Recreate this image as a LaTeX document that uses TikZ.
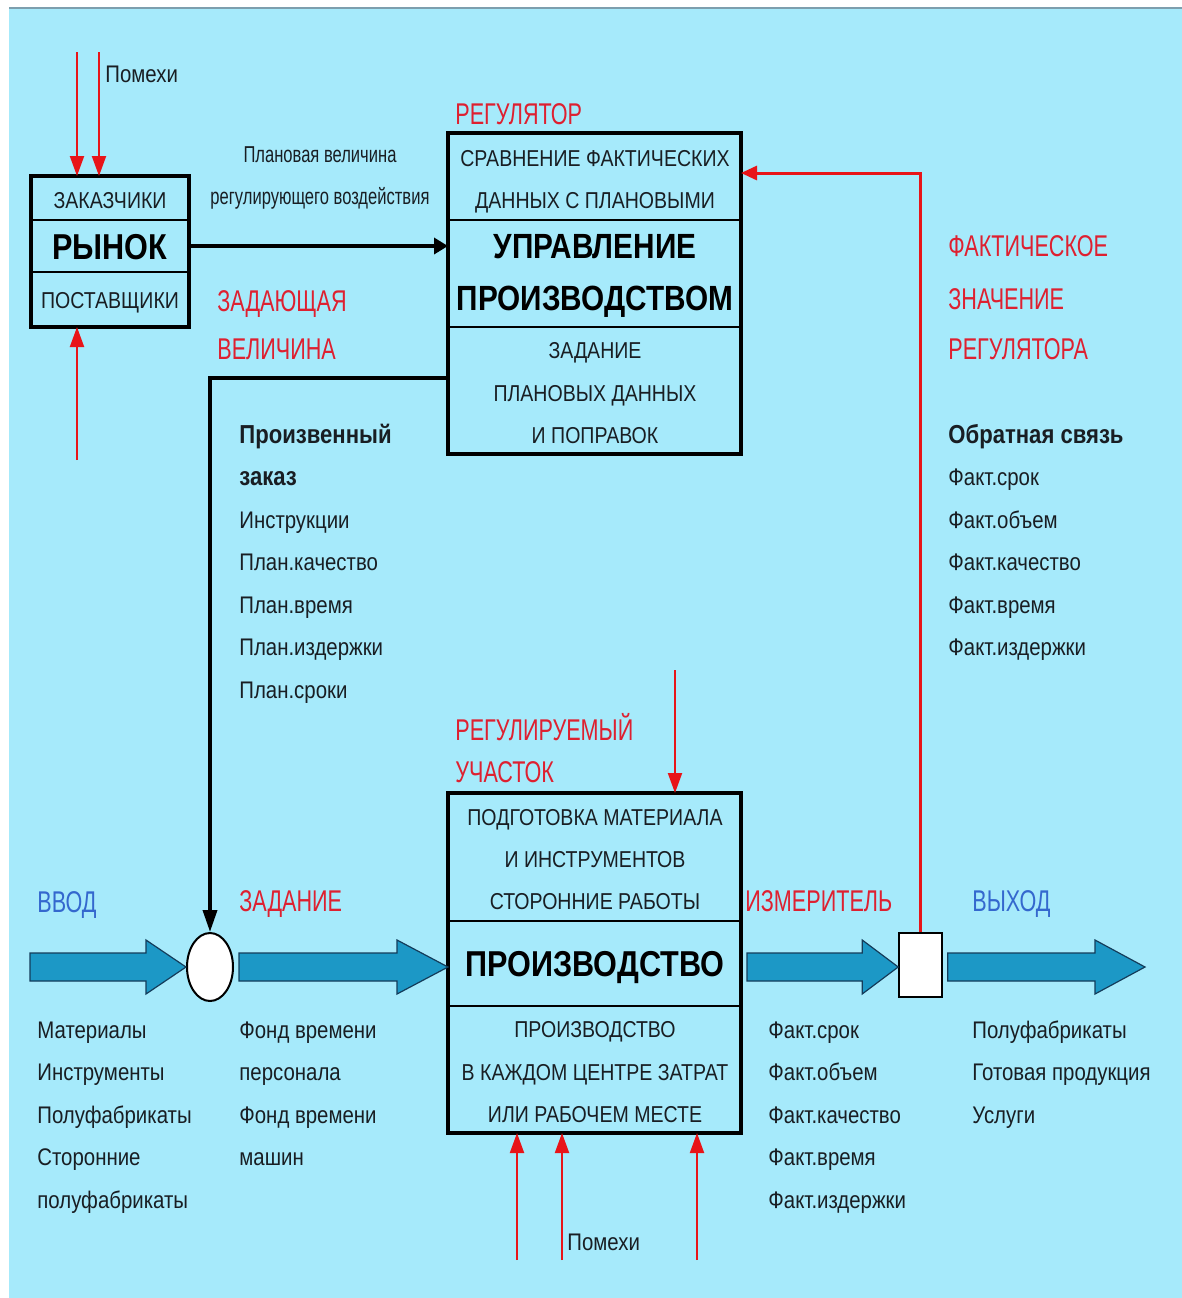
\documentclass[tikz,border=0pt]{standalone}
\usepackage{fontspec}
\setmainfont[FakeStretch=0.85]{Liberation Sans}
\newfontfamily\narrowfont[FakeStretch=0.72]{Liberation Sans}
\usetikzlibrary{arrows.meta,shapes.geometric,calc}
\definecolor{bgcyan}{RGB}{166,234,251}
\definecolor{flowblue}{RGB}{28,152,198}
\definecolor{flowedge}{RGB}{20,60,90}
\definecolor{redline}{RGB}{232,20,24}
\definecolor{redtxt}{RGB}{222,32,48}
\definecolor{bluetxt}{RGB}{52,104,206}
\definecolor{darktxt}{RGB}{25,30,35}
\newcommand{\flowarrow}[3]{%
  \draw[flowarr] let \p1=(#1 |- flowline), \p2=(#2 |- flowline) in
    (\x1,{\y1+7pt}) -- ({\x2-#3},{\y1+7pt}) -- ({\x2-#3},{\y1+13.5pt}) -- (\x2,\y1)
    -- ({\x2-#3},{\y1-13.5pt}) -- ({\x2-#3},{\y1-7pt}) -- (\x1,{\y1-7pt}) -- cycle;}

\begin{document}
\begin{tikzpicture}[x=0.5pt,y=-0.5pt,
    box/.style={draw=black,line width=2pt,inner sep=0pt,outer sep=0pt},
    divider/.style={line width=1pt},
    boxtxt/.style={anchor=base,inner sep=0pt,text=darktxt,font=\fontsize{11.5}{13}\selectfont},
    boxtitle/.style={anchor=base,inner sep=0pt,text=black,font=\bfseries\fontsize{17.5}{20}\selectfont},
    redlbl/.style={anchor=base west,inner sep=0pt,text=redtxt,font=\narrowfont\fontsize{15}{17}\selectfont},
    bluelbl/.style={redlbl,text=bluetxt},
    listtxt/.style={anchor=base west,inner sep=0pt,text=darktxt,font=\fontsize{12}{14}\selectfont},
    listhead/.style={listtxt,font=\bfseries\fontsize{13}{15}\selectfont},
    redarr/.style={draw=redline,line width=1pt,-{Triangle[length=10pt,width=7pt]}},
    blackarr/.style={draw=black,line width=2pt,-{Triangle[length=7pt,width=8pt]}},
    flowarr/.style={draw=flowedge,line width=0.6pt,fill=flowblue}]
  \useasboundingbox (0,0) rectangle (1182,1298);
  \fill[white] (0,0) rectangle (1182,1298);
  \fill[bgcyan] (9,9) rectangle (1182,1298);
  \draw[line width=1pt,color=gray!70!cyan] (9,8) -- (1182,8);

  \node[box,minimum width=79pt,minimum height=75.5pt] (market) at (110,251.5) {};
  \draw[divider] (31,220) -- (189,220);
  \draw[divider] (31,272) -- (189,272);
  \node[boxtxt] (customers) at (110,208) {ЗАКАЗЧИКИ};
  \node[boxtitle,font=\bfseries\fontsize{18}{20}\selectfont] (markettitle) at (110,259) {РЫНОК};
  \node[boxtxt] (suppliers) at (110,308) {ПОСТАВЩИКИ};

  \node[box,minimum width=146.5pt,minimum height=160.5pt] (control) at (594.5,293.5) {};
  \draw[divider] (448,220) -- (741,220);
  \draw[divider] (448,327) -- (741,327);
  \node[boxtxt] (cmp1) at (595,166) {СРАВНЕНИЕ ФАКТИЧЕСКИХ};
  \node[boxtxt] (cmp2) at (595,208) {ДАННЫХ С ПЛАНОВЫМИ};
  \node[boxtitle] (ctl1) at (595,258.5) {УПРАВЛЕНИЕ};
  \node[boxtitle] (ctl2) at (595,310.5) {ПРОИЗВОДСТВОМ};
  \node[boxtxt] (plan1) at (595,358) {ЗАДАНИЕ};
  \node[boxtxt] (plan2) at (595,401) {ПЛАНОВЫХ ДАННЫХ};
  \node[boxtxt] (plan3) at (595,443) {И ПОПРАВОК};

  \node[box,minimum width=146.5pt,minimum height=170pt] (prod) at (594.5,963) {};
  \draw[divider] (448,921) -- (741,921);
  \draw[divider] (448,1006) -- (741,1006);
  \node[boxtxt] (prep1) at (595,825) {ПОДГОТОВКА МАТЕРИАЛА};
  \node[boxtxt] (prep2) at (595,867) {И ИНСТРУМЕНТОВ};
  \node[boxtxt] (prep3) at (595,909) {СТОРОННИЕ РАБОТЫ};
  \node[boxtitle,font=\bfseries\fontsize{18}{20}\selectfont] (prodtitle) at (595,976) {ПРОИЗВОДСТВО};
  \node[boxtxt] (cost1) at (595,1037) {ПРОИЗВОДСТВО};
  \node[boxtxt] (cost2) at (595,1080) {В КАЖДОМ ЦЕНТРЕ ЗАТРАТ};
  \node[boxtxt] (cost3) at (595,1122) {ИЛИ РАБОЧЕМ МЕСТЕ};

  \node[draw=black,line width=1pt,fill=white,ellipse,inner sep=0pt,minimum width=23pt,minimum height=34pt] (circ) at (210,967) {};
  \node[draw=black,line width=0.8pt,fill=white,inner sep=0pt,minimum width=21.5pt,minimum height=32pt] (meter) at (920.5,965) {};

  \coordinate (flowline) at (0,967);
  \coordinate (a1s) at (30,967);
  \coordinate (a2s) at ([xshift=2.5pt]circ.east);
  \coordinate (a3s) at ([xshift=3pt]prod.east);
  \coordinate (a4s) at ([xshift=2.5pt]meter.east);
  \coordinate (a4e) at (1145,967);
  \flowarrow{a1s}{circ.west}{20pt}
  \flowarrow{a2s}{prod.west}{25.5pt}
  \flowarrow{a3s}{meter.west}{18pt}
  \flowarrow{a4s}{a4e}{25pt}

  \coordinate (planout) at ([yshift=2.75pt]market.east);
  \draw[blackarr] (planout) -- (planout -| control.west);
  \coordinate (setcorner) at (210,378);
  \draw[line width=1.8pt,-{Triangle[length=11pt,width=7pt]}] (setcorner -| control.west) -- (setcorner) -- (circ.north);
  \coordinate (fbcorner) at (920.5,173);
  \draw[draw=redline,line width=1.5pt,-{Triangle[length=8pt,width=7pt]}] (meter.north) -- (fbcorner) -- (fbcorner -| control.east);

  \coordinate (nz1) at (77,52);
  \coordinate (nz2) at (99,52);
  \coordinate (nz3) at (77,460);
  \coordinate (nz4) at (675,670);
  \coordinate (nz5) at (517,1260);
  \coordinate (nz6) at (562,1260);
  \coordinate (nz7) at (697,1260);
  \draw[redarr] (nz1) -- (nz1 |- market.north);
  \draw[redarr] (nz2) -- (nz2 |- market.north);
  \draw[redarr] (nz3) -- (nz3 |- market.south);
  \draw[redarr] (nz4) -- (nz4 |- prod.north);
  \draw[redarr] (nz5) -- (nz5 |- prod.south);
  \draw[redarr] (nz6) -- (nz6 |- prod.south);
  \draw[redarr] (nz7) -- (nz7 |- prod.south);
  \node[listtxt] (noisetop) at (105,82) {Помехи};
  \node[listtxt] (noisebot) at (567,1250) {Помехи};

  \node[anchor=base,inner sep=0pt,text=darktxt,font=\narrowfont\fontsize{11.5}{13}\selectfont] (plan1lbl) at (320,162.5) {Плановая величина};
  \node[anchor=base,inner sep=0pt,text=darktxt,font=\narrowfont\fontsize{11.5}{13}\selectfont] (plan2lbl) at (320,204) {регулирующего воздействия};

  \node[redlbl] (regl) at (455,124) {РЕГУЛЯТОР};
  \node[redlbl] (setv1) at (217,311) {ЗАДАЮЩАЯ};
  \node[redlbl] (setv2) at (217,359) {ВЕЛИЧИНА};
  \node[redlbl] (fact1) at (948,256) {ФАКТИЧЕСКОЕ};
  \node[redlbl] (fact2) at (948,309) {ЗНАЧЕНИЕ};
  \node[redlbl] (fact3) at (948,359) {РЕГУЛЯТОРА};
  \node[redlbl] (sect1) at (455,740) {РЕГУЛИРУЕМЫЙ};
  \node[redlbl] (sect2) at (455,782) {УЧАСТОК};
  \node[redlbl] (task) at (239,911) {ЗАДАНИЕ};
  \node[redlbl] (gauge) at (745,911) {ИЗМЕРИТЕЛЬ};
  \node[bluelbl] (inlbl) at (37,912) {ВВОД};
  \node[bluelbl] (outlbl) at (972,911) {ВЫХОД};

  \node[listhead] (order1) at (239,443) {Произвенный};
  \node[listhead] (order2) at (239,485.5) {заказ};
  \foreach \t [count=\i from 2] in {Инструкции,План.качество,План.время,План.издержки,План.сроки}
    \node[listtxt] (ord\i) at (239,{443+42.5*\i}) {\t};
  \node[listhead] (fbhead) at (948,443) {Обратная связь};
  \foreach \t [count=\i from 1] in {Факт.срок,Факт.объем,Факт.качество,Факт.время,Факт.издержки}
    \node[listtxt] (fb\i) at (948,{443+42.5*\i}) {\t};

  \foreach \t [count=\i from 0] in {Материалы,Инструменты,Полуфабрикаты,Сторонние,полуфабрикаты}
    \node[listtxt] (in\i) at (37,{1038+42.5*\i}) {\t};
  \foreach \t [count=\i from 0] in {Фонд времени,персонала,Фонд времени,машин}
    \node[listtxt] (fund\i) at (239,{1038+42.5*\i}) {\t};
  \foreach \t [count=\i from 0] in {Факт.срок,Факт.объем,Факт.качество,Факт.время,Факт.издержки}
    \node[listtxt] (meas\i) at (768,{1038+42.5*\i}) {\t};
  \foreach \t [count=\i from 0] in {Полуфабрикаты,Готовая продукция,Услуги}
    \node[listtxt] (out\i) at (972,{1038+42.5*\i}) {\t};
\end{tikzpicture}
\end{document}
